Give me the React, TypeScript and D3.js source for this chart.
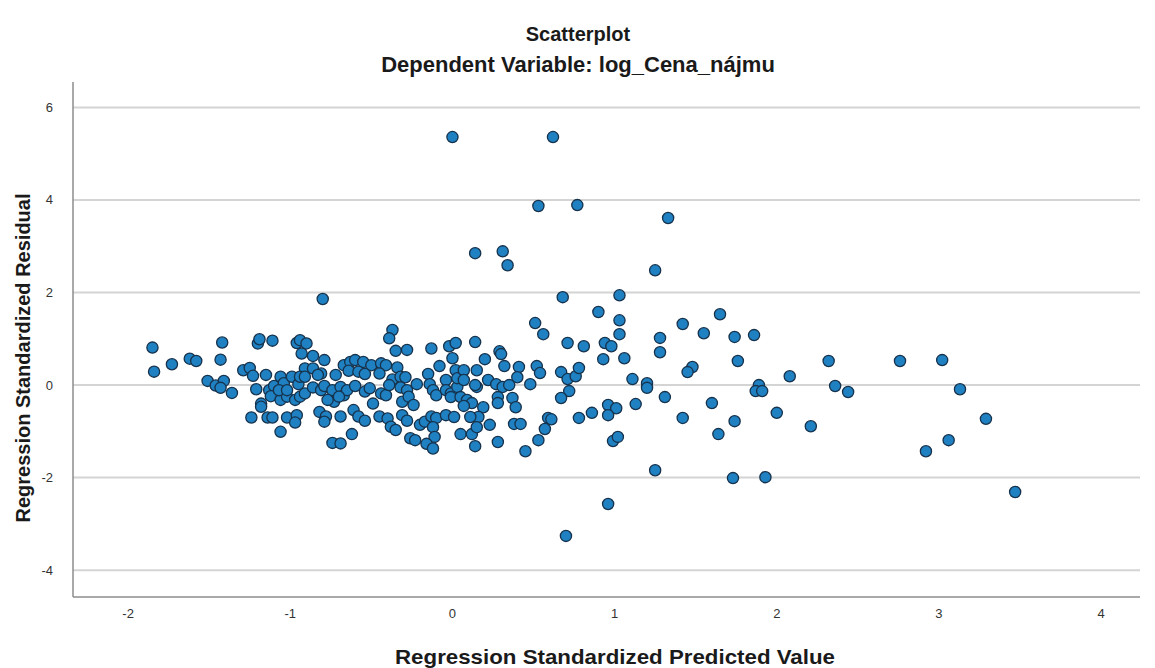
import React from 'react';
import * as d3 from 'd3';

// [predicted, residual] pairs
const outliersAndRight: [number, number][] = [
  [0.00, 5.36], [0.62, 5.36], [0.53, 3.87], [0.77, 3.89], [1.33, 3.61], [0.14, 2.85], [0.31, 2.89],
  [0.34, 2.59], [1.25, 2.48], [-0.80, 1.86], [0.68, 1.90], [1.03, 1.94], [0.90, 1.58], [1.03, 1.40],
  [1.03, 1.10], [0.51, 1.34], [0.56, 1.10], [0.71, 0.91], [0.81, 0.84], [0.94, 0.91], [0.98, 0.84],
  [0.93, 0.56], [1.06, 0.58], [1.28, 1.02], [1.28, 0.71], [1.42, 1.32], [1.55, 1.12], [1.65, 1.53],
  [1.74, 1.04], [1.86, 1.08], [1.76, 0.52], [2.32, 0.52], [2.76, 0.52], [3.02, 0.54], [0.67, 0.28],
  [0.71, 0.13], [0.76, 0.19], [0.78, 0.37], [0.72, -0.13], [0.67, -0.28], [1.11, 0.13], [1.20, 0.04],
  [1.20, -0.06], [1.31, -0.26], [1.48, 0.39], [1.45, 0.28], [0.96, -0.43], [1.01, -0.50], [0.96, -0.65],
  [1.13, -0.41], [0.86, -0.60], [0.78, -0.71], [1.42, -0.71], [1.60, -0.39], [1.74, -0.78], [1.64, -1.06],
  [0.99, -1.21], [1.02, -1.12], [1.89, 0.00], [1.87, -0.13], [1.91, -0.13], [2.08, 0.19], [2.00, -0.60],
  [2.21, -0.89], [2.36, -0.02], [2.44, -0.15], [3.13, -0.09], [3.29, -0.73], [3.06, -1.19], [2.92, -1.43],
  [3.47, -2.31], [1.25, -1.84], [1.73, -2.01], [1.93, -1.99], [0.96, -2.57], [0.70, -3.26],
];

const centerRight: [number, number][] = [
  [-0.02, 0.84], [0.02, 0.91], [0.14, 0.93], [0.00, 0.58], [0.29, 0.73], [0.30, 0.67], [0.20, 0.56],
  [0.32, 0.41], [0.41, 0.39], [0.40, 0.17], [0.52, 0.41], [0.54, 0.26], [0.48, 0.02], [0.02, 0.32],
  [0.03, 0.15], [0.07, 0.32], [0.07, 0.11], [0.15, 0.32], [0.22, 0.11], [0.27, 0.02], [0.31, -0.04],
  [0.35, 0.00], [0.14, 0.00], [-0.01, -0.26], [0.05, -0.26], [0.09, -0.32], [0.12, -0.39], [0.07, -0.45],
  [0.28, -0.26], [0.28, -0.39], [0.37, -0.28], [0.39, -0.48], [0.19, -0.48], [0.16, -0.69], [0.11, -0.69],
  [0.01, -0.69], [0.05, -1.06], [0.12, -1.06], [0.15, -0.91], [0.14, -1.32], [0.23, -0.86], [0.28, -1.23],
  [0.38, -0.84], [0.42, -0.84], [0.45, -1.43], [0.53, -1.19], [0.57, -0.95], [0.59, -0.71], [0.61, -0.74],
];

const centerLeft: [number, number][] = [
  [-0.37, 1.19], [-0.39, 1.01], [-0.35, 0.74], [-0.28, 0.76], [-0.13, 0.79], [-0.93, 0.68], [-0.86, 0.63],
  [-0.79, 0.54], [-0.91, 0.36], [-0.86, 0.36], [-0.81, 0.25], [-0.94, 0.18], [-0.91, 0.18], [-0.83, 0.22],
  [-0.72, 0.22], [-0.67, 0.43], [-0.63, 0.50], [-0.60, 0.54], [-0.55, 0.50], [-0.50, 0.43], [-0.64, 0.31],
  [-0.58, 0.29], [-0.54, 0.24], [-0.44, 0.47], [-0.41, 0.43], [-0.45, 0.25], [-0.37, 0.12], [-0.34, 0.38],
  [-0.32, 0.18], [-0.29, 0.17], [-0.22, 0.02], [-0.15, 0.24], [-0.08, 0.41], [-0.14, 0.02], [-0.12, -0.11],
  [-0.10, -0.22], [-0.04, 0.11], [-0.04, -0.11], [-0.01, -0.18], [0.03, -0.04], [0.15, -0.04],
  [-0.91, -0.18], [-0.86, -0.05], [-0.81, -0.11], [-0.79, -0.02], [-0.74, -0.11], [-0.69, -0.04],
  [-0.67, -0.22], [-0.65, -0.11], [-0.73, -0.36], [-0.70, -0.25], [-0.60, -0.02], [-0.54, -0.14],
  [-0.51, -0.07], [-0.49, -0.40], [-0.44, -0.18], [-0.41, -0.22], [-0.39, 0.00], [-0.32, -0.05],
  [-0.28, -0.11], [-0.31, -0.36], [-0.27, -0.25], [-0.24, -0.43], [-0.82, -0.58], [-0.78, -0.68],
  [-0.79, -0.79], [-0.69, -0.68], [-0.61, -0.54], [-0.58, -0.68], [-0.54, -0.77], [-0.45, -0.68],
  [-0.40, -0.72], [-0.38, -0.90], [-0.35, -0.97], [-0.31, -0.65], [-0.28, -0.77], [-0.20, -0.86],
  [-0.17, -0.79], [-0.13, -0.68], [-0.10, -0.71], [-0.04, -0.65], [-0.12, -0.91], [-0.11, -1.12],
  [-0.16, -1.27], [-0.12, -1.37], [-0.26, -1.15], [-0.23, -1.19], [-0.62, -1.06], [-0.74, -1.25],
  [-0.69, -1.26], [-0.77, -0.32],
];

const farLeft: [number, number][] = [
  [-1.85, 0.81], [-1.84, 0.29], [-1.73, 0.45], [-1.62, 0.57], [-1.58, 0.52], [-1.42, 0.92], [-1.43, 0.55],
  [-1.51, 0.09], [-1.46, -0.01], [-1.41, 0.09], [-1.43, -0.06], [-1.36, -0.17], [-1.29, 0.32], [-1.25, 0.37],
  [-1.23, 0.20], [-1.20, 0.90], [-1.19, 0.99], [-1.11, 0.96], [-0.96, 0.91], [-0.94, 0.97], [-0.90, 0.90],
  [-1.15, 0.22], [-1.21, -0.09], [-1.13, -0.11], [-1.10, -0.02], [-1.06, 0.18], [-1.04, 0.04], [-0.99, 0.18],
  [-1.12, -0.24], [-1.06, -0.32], [-1.02, -0.25], [-0.97, -0.32], [-1.18, -0.40], [-1.18, -0.47],
  [-1.24, -0.70], [-1.14, -0.70], [-1.11, -0.70], [-1.02, -0.70], [-0.96, -0.65], [-0.97, -0.81],
  [-1.06, -1.01], [-1.07, -0.11], [-1.02, -0.11], [-0.95, 0.02], [-0.94, -0.25],
];

const xTicks = [-2, -1, 0, 1, 2, 3, 4];
const yTicks = [-4, -2, 0, 2, 4, 6];

const W = 1155;
const H = 668;
const left = 73, right = 1140, top = 82, bottom = 597;

export default function App() {
  const x = d3.scaleLinear().domain([-2.34, 4.24]).range([left, right]);
  const y = d3.scaleLinear().domain([-4.58, 6.55]).range([bottom, top]);
  const points = [...farLeft, ...centerLeft, ...centerRight, ...outliersAndRight];
  const font = 'Arial, "Liberation Sans", sans-serif';

  return (
    <svg width={W} height={H} style={{ position: 'absolute', left: 0, top: 0, background: '#fff' }} fontFamily={font}>
      <text x={578} y={41} textAnchor="middle" fontSize={20} fontWeight="bold" fill="#1a1a1a">Scatterplot</text>
      <text x={578} y={72} textAnchor="middle" fontSize={22} fontWeight="bold" fill="#1a1a1a">Dependent Variable: log_Cena_nájmu</text>

      {/* grid */}
      {yTicks.map(t => (
        <line key={'g' + t} x1={left} x2={right} y1={y(t)} y2={y(t)} stroke="#d4d4d4" strokeWidth={2} />
      ))}

      {/* axes */}
      <line x1={left} x2={left} y1={top} y2={bottom} stroke="#8c8c8c" strokeWidth={1.5} />
      <line x1={left} x2={right} y1={bottom} y2={bottom} stroke="#8c8c8c" strokeWidth={1.5} />

      {yTicks.map(t => (
        <text key={'y' + t} x={53} y={y(t) + 4.5} textAnchor="end" fontSize={13} fill="#333">{t}</text>
      ))}
      {xTicks.map(t => (
        <text key={'x' + t} x={x(t)} y={618} textAnchor="middle" fontSize={13} fill="#333">{t}</text>
      ))}

      {points.map((p, i) => (
        <circle key={i} cx={x(p[0])} cy={y(p[1])} r={5.6} fill="#1f80c2" stroke="#16324c" strokeWidth={1.3} />
      ))}

      <text x={615} y={664} textAnchor="middle" fontSize={21} fontWeight="bold" fill="#1a1a1a" textLength={440} lengthAdjust="spacingAndGlyphs">Regression Standardized Predicted Value</text>
      <text transform={`translate(30,${358}) rotate(-90)`} textAnchor="middle" fontSize={20} fontWeight="bold" fill="#1a1a1a">Regression Standardized Residual</text>
    </svg>
  );
}
